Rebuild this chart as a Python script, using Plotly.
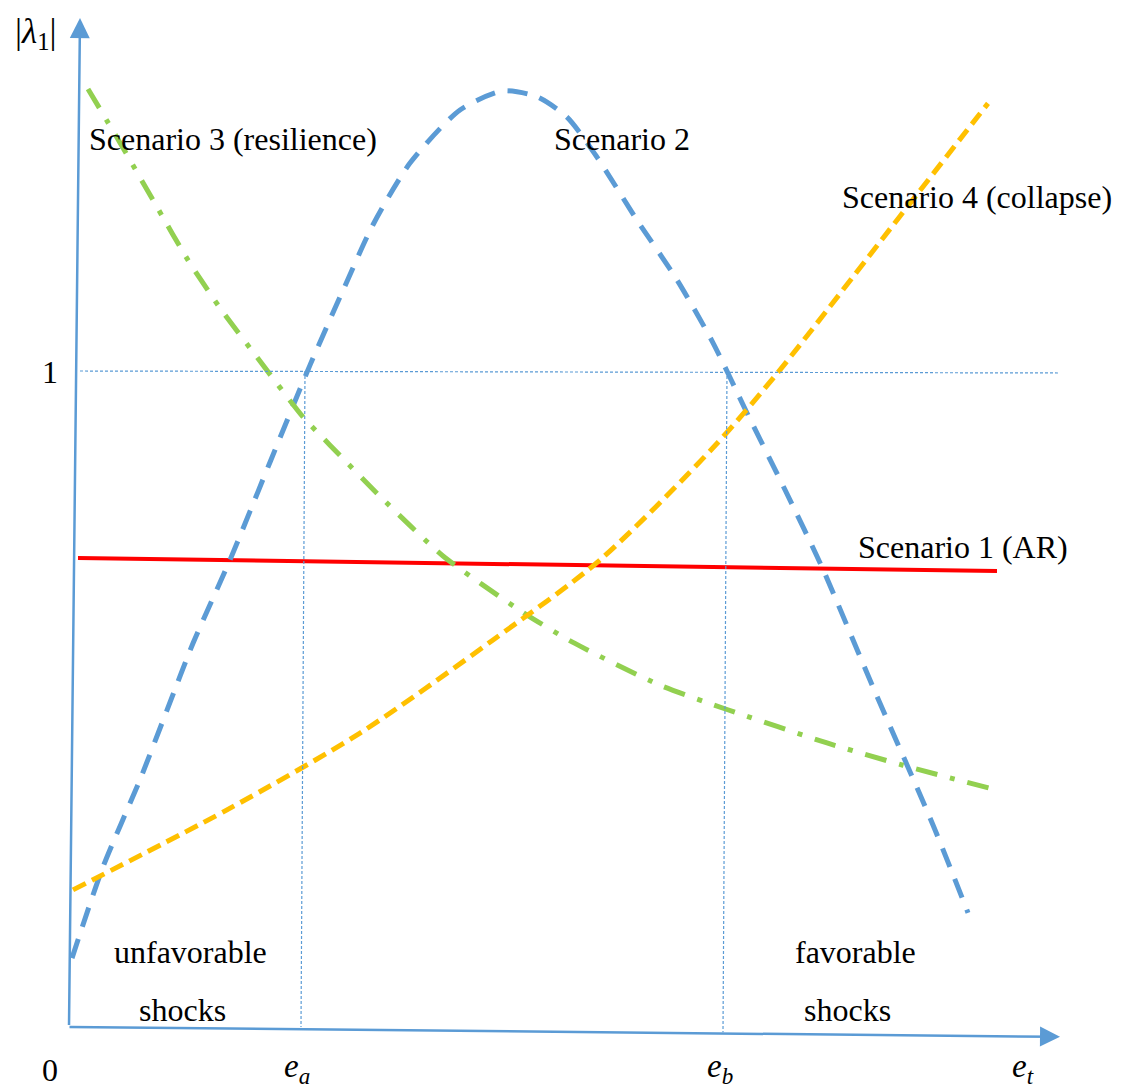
import plotly.graph_objects as go

# ---- data (conceptual diagram units: x = e_t, y = |lambda_1|) ----
s1_x = [0.09, 9.28]
s1_y = [0.715, 0.695]

s2_x = [0.03, 0.34, 0.71, 0.98, 1.24, 1.61, 2.01, 2.41, 2.74, 3.04, 3.41, 3.91, 4.34, 4.68,
        4.98, 5.28, 5.68, 6.08, 6.44, 6.78, 7.16, 7.53, 8.04, 8.64, 8.99]
s2_y = [0.105, 0.244, 0.377, 0.483, 0.585, 0.712, 0.861, 1.009, 1.123, 1.223, 1.317, 1.398,
        1.427, 1.418, 1.387, 1.326, 1.230, 1.139, 1.043, 0.936, 0.819, 0.701, 0.518, 0.308, 0.174]

s3_x = [0.19, 0.51, 0.88, 1.19, 1.51, 1.88, 2.34, 2.61, 3.11, 3.74, 4.53, 5.03, 5.91, 6.58,
        7.58, 8.34, 9.28]
s3_y = [1.430, 1.348, 1.250, 1.169, 1.096, 1.021, 0.930, 0.887, 0.809, 0.718, 0.633, 0.587,
        0.521, 0.484, 0.433, 0.399, 0.361]

s4_x = [0.04, 1.58, 2.91, 4.24, 5.31, 6.44, 7.09, 8.31, 9.19]
s4_y = [0.209, 0.331, 0.448, 0.590, 0.712, 0.883, 0.998, 1.236, 1.408]

# reference guide lines
ref_h_x = [0.11, 9.91]
ref_h_y = [1.0, 0.997]
ea_x = [2.36, 2.32]
ea_y = [1.0, 0.0]
eb_x = [6.58, 6.54]
eb_y = [1.0, -0.008]

# axes (tail -> head)
yaxis_line = [(0.0, 0.0), (0.11, 1.538)]
xaxis_line = [(-0.01, 0.0), (9.91, -0.015)]

# tick labels
tick_labels = ["0", "1", "<i>e</i><sub><i>a</i></sub>", "<i>e</i><sub><i>b</i></sub>",
               "<i>e</i><sub><i>t</i></sub>"]
tick_pos = [(-0.19, -0.066), (-0.19, 0.998), (2.28, -0.064), (6.51, -0.064), (9.54, -0.064)]
tick_size = [32, 32, 33, 33, 33]

texts = ["Scenario 3 (resilience)", "Scenario 2", "Scenario 4 (collapse)", "Scenario 1 (AR)",
         "unfavorable", "shocks", "favorable", "shocks"]
text_pos = [(1.64, 1.354), (5.53, 1.354), (9.08, 1.265), (8.94, 0.732),
            (1.21, 0.114), (1.13, 0.026), (7.86, 0.114), (7.78, 0.026)]

BLUE = "#5B9BD5"
FONT = "Liberation Serif"

fig = go.Figure()
fig.add_trace(go.Scatter(x=s1_x, y=s1_y, mode="lines", line=dict(color="#FF0000", width=4)))
fig.add_trace(go.Scatter(x=s2_x, y=s2_y, mode="lines",
                         line=dict(color=BLUE, width=5, dash="20px,13px", shape="spline", smoothing=0.7)))
fig.add_trace(go.Scatter(x=s3_x, y=s3_y, mode="lines",
                         line=dict(color="#92D050", width=5, dash="22px,13px,5px,13px", shape="spline",
                                   smoothing=0.6)))
fig.add_trace(go.Scatter(x=s4_x, y=s4_y, mode="lines",
                         line=dict(color="#FFC000", width=5, dash="14px,7px", shape="spline", smoothing=0.8)))

for xs, ys in [(ref_h_x, ref_h_y), (ea_x, ea_y), (eb_x, eb_y)]:
    fig.add_trace(go.Scatter(x=xs, y=ys, mode="lines", line=dict(color=BLUE, width=1.2, dash="3px,2px")))

# axes with arrowheads
for (x0, y0), (x1, y1) in [yaxis_line, xaxis_line]:
    fig.add_annotation(x=x1, y=y1, ax=x0, ay=y0, xref="x", yref="y", axref="x", ayref="y",
                       showarrow=True, arrowhead=2, arrowsize=1.6, arrowwidth=2.5, arrowcolor=BLUE,
                       text=" ", font=dict(size=1))

fig.add_annotation(x=-0.34, y=1.515, xref="x", yref="y", showarrow=False,
                   text="|<i>λ</i><sub>1</sub>|", font=dict(family=FONT, size=35, color="black"))
for lab, (x, y), sz in zip(tick_labels, tick_pos, tick_size):
    fig.add_annotation(x=x, y=y, xref="x", yref="y", showarrow=False, text=lab,
                       font=dict(family=FONT, size=sz, color="black"))
for t, (x, y) in zip(texts, text_pos):
    fig.add_annotation(x=x, y=y, xref="x", yref="y", showarrow=False, text=t,
                       font=dict(family=FONT, size=32, color="black"))

# page body has an 8px margin: size figure to fit and align ranges with the reference
fig.update_layout(
    width=1113, height=1083, showlegend=False,
    margin=dict(l=0, r=0, t=0, b=0),
    paper_bgcolor="white", plot_bgcolor="white",
    xaxis=dict(range=[-0.61, 10.52], visible=False, fixedrange=True),
    yaxis=dict(range=[-0.0976, 1.5534], visible=False, fixedrange=True),
)
fig.write_html("out.html")
